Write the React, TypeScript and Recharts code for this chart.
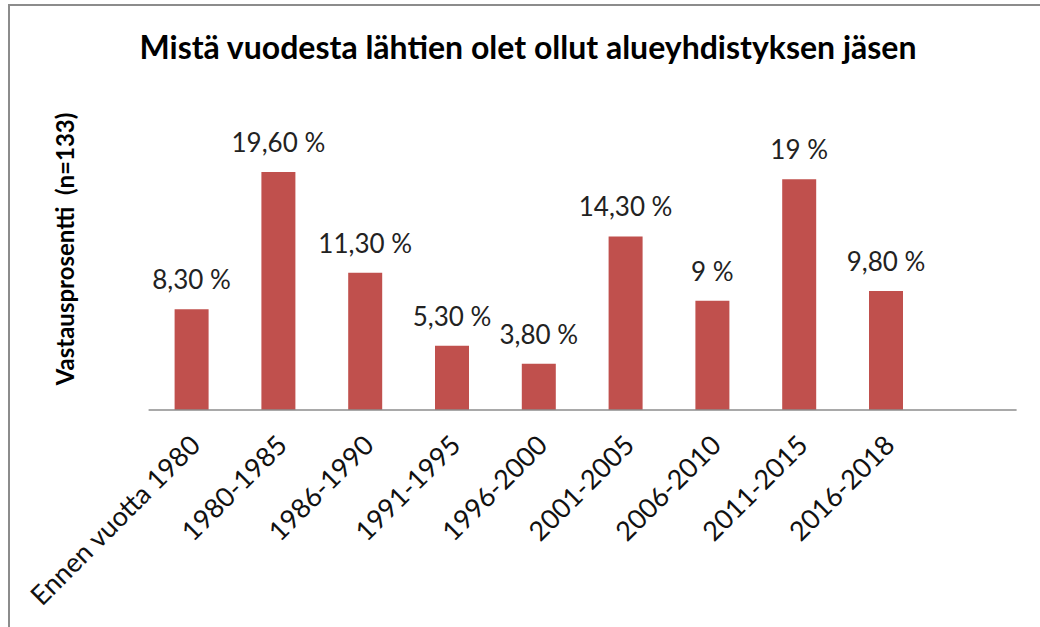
import { BarChart, Bar, XAxis, YAxis, LabelList } from 'recharts';

const categories = [
  'Ennen vuotta 1980',
  '1980-1985',
  '1986-1990',
  '1991-1995',
  '1996-2000',
  '2001-2005',
  '2006-2010',
  '2011-2015',
  '2016-2018',
  '',
];
const shares = [8.3, 19.6, 11.3, 5.3, 3.8, 14.3, 9, 19, 9.8, null];
const shareLabels = ['8,30 %', '19,60 %', '11,30 %', '5,30 %', '3,80 %', '14,30 %', '9 %', '19 %', '9,80 %', ''];

const data = categories.map((name, i) => ({ name, value: shares[i], label: shareLabels[i] }));

const FONT = 'Lato, "Open Sans", sans-serif';

function SlantTick({ x, y, payload }: any) {
  if (!payload?.value) return null;
  const ax = x + 10;
  const ay = y + 29;
  return (
    <text
      x={ax}
      y={ay}
      transform={`rotate(-45, ${ax}, ${ay})`}
      textAnchor="end"
      fontFamily={FONT}
      fontSize={27}
      fill="#111"
    >
      {payload.value}
    </text>
  );
}

// plain text label so the value and % stay on one line
function BarLabel({ x, y, width, value }: any) {
  if (!value) return null;
  return (
    <text x={x + width / 2} y={y - 20} textAnchor="middle" fontFamily={FONT} fontSize={26} fill="#222">
      {value}
    </text>
  );
}

export default function App() {
  return (
    <div style={{ position: 'absolute', left: 0, top: 0, width: 1040, height: 627, background: '#fff' }}>
      {/* chart frame, only top and left edges visible */}
      <div
        style={{
          position: 'absolute',
          left: 8,
          top: 4,
          width: 1040,
          height: 627,
          borderTop: '2px solid #8c8c8c',
          borderLeft: '2px solid #8c8c8c',
        }}
      />
      <div
        style={{
          position: 'absolute',
          left: 0,
          width: 1056,
          top: 27,
          textAlign: 'center',
          fontFamily: FONT,
          fontWeight: 700,
          fontSize: 32,
          color: '#000',
        }}
      >
        Mistä vuodesta lähtien olet ollut alueyhdistyksen jäsen
      </div>
      <div
        style={{
          position: 'absolute',
          left: 64,
          top: 249,
          transform: 'translate(-50%, -50%) rotate(-90deg)',
          whiteSpace: 'pre',
          fontFamily: FONT,
          fontWeight: 700,
          fontSize: 24,
          color: '#000',
        }}
      >
        {'Vastausprosentti  (n=133)'}
      </div>
      <div style={{ position: 'absolute', left: 0, top: 0 }}>
        <BarChart
          width={1040}
          height={627}
          data={data}
          margin={{ top: 106.5, right: 23.4, bottom: 67, left: 148.6 }}
          barSize={34}
        >
          <YAxis hide domain={[0, 25]} />
          <XAxis
            dataKey="name"
            height={150}
            interval={0}
            tickLine={false}
            axisLine={{ stroke: '#8c8c8c', strokeWidth: 1.5 }}
            tick={<SlantTick />}
          />
          <Bar dataKey="value" fill="#C0504D" isAnimationActive={false}>
            <LabelList dataKey="label" content={<BarLabel />} />
          </Bar>
        </BarChart>
      </div>
    </div>
  );
}
